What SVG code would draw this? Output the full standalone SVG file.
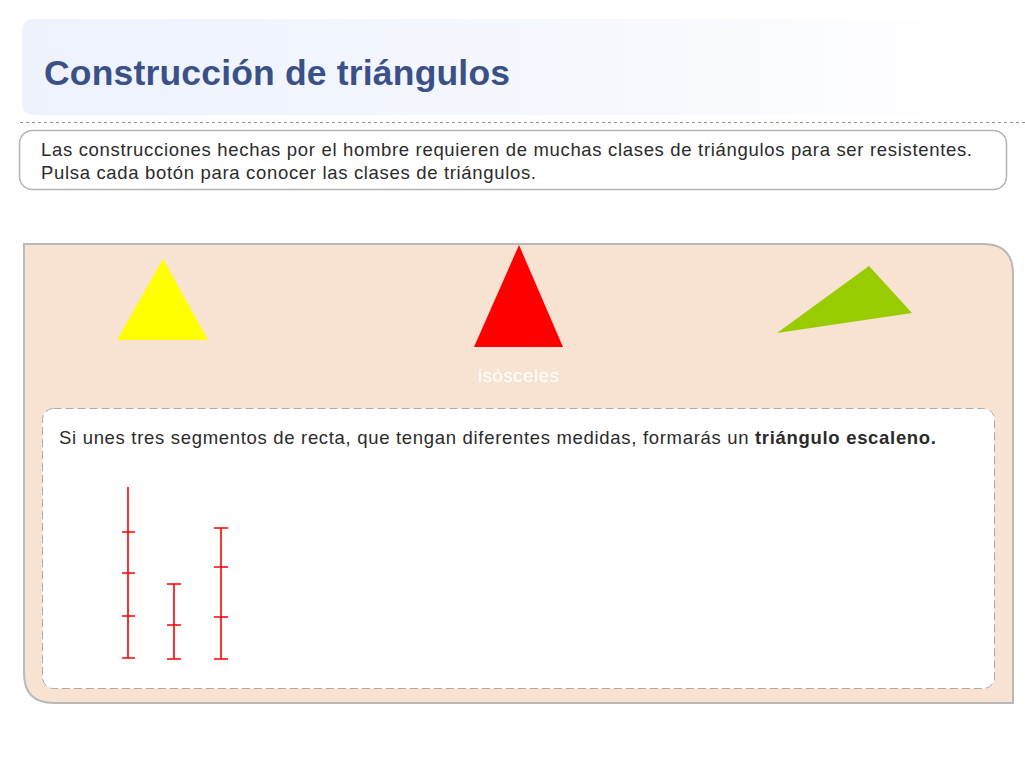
<svg xmlns="http://www.w3.org/2000/svg" width="1025" height="769" viewBox="0 0 1025 769">
<defs>
<linearGradient id="hdr" x1="0" y1="0" x2="1" y2="0">
<stop offset="0" stop-color="#edf2fd"/>
<stop offset="0.6" stop-color="#f6f8fe"/>
<stop offset="1" stop-color="#ffffff"/>
</linearGradient>
<style>
.body{font-family:"Liberation Sans",Arial,sans-serif;font-size:18.5px;fill:#2b2b2b}
.seg{stroke:#ff0000;stroke-width:1.6;fill:none}
</style>
</defs>
<rect width="1025" height="769" fill="#ffffff"/>
<g id="header">
<path d="M34 19 H975 V115 H34 Q22 115 22 103 V31 Q22 19 34 19 Z" fill="url(#hdr)"/>
<text x="44" y="85" font-family="Liberation Sans,Arial,sans-serif" font-size="35.5" font-weight="bold" fill="#3a5188" textLength="466" lengthAdjust="spacing">Construcción de triángulos</text>
</g>
<line x1="20" y1="122.5" x2="1025" y2="122.5" stroke="#8a8f99" stroke-width="1" stroke-dasharray="3,3"/>
<g id="intro">
<rect x="19.5" y="130.5" width="987" height="59" rx="13" fill="#ffffff" stroke="#b4b4b4" stroke-width="1.5"/>
<text class="body" x="41" y="156" textLength="931" lengthAdjust="spacing">Las construcciones hechas por el hombre requieren de muchas clases de triángulos para ser resistentes.</text>
<text class="body" x="41" y="179" textLength="495" lengthAdjust="spacing">Pulsa cada botón para conocer las clases de triángulos.</text>
</g>
<g id="panel">
<path d="M24 244 H983 Q1013 244 1013 274 V703 H54 Q24 703 24 673 Z" fill="#f8e3d2" stroke="#b9b9b9" stroke-width="2"/>
</g>
<g id="tri-equilatero"><polygon points="163,259 117,340 208,340" fill="#ffff00"/></g>
<g id="tri-isosceles"><polygon points="519,245 474,347 563,347" fill="#ff0000"/>
<text x="478" y="382" font-family="Liberation Sans,Arial,sans-serif" font-size="18.5" fill="#ffffff" textLength="81" lengthAdjust="spacing">isósceles</text></g>
<g id="tri-escaleno"><polygon points="869,266 777,333 912,313" fill="#99cc00"/></g>
<g id="content">
<rect x="42.5" y="408.5" width="952" height="280" rx="11" fill="#ffffff" stroke="#aaaaaa" stroke-width="1" stroke-dasharray="8,4"/>
<text class="body" x="59" y="444" textLength="877" lengthAdjust="spacing">Si unes tres segmentos de recta, que tengan diferentes medidas, formarás un <tspan font-weight="bold">triángulo escaleno.</tspan></text>
</g>
<g id="segments" class="seg">
<path d="M128 487 V658 M122 532 H135 M122 573 H135 M122 616 H135 M122 658 H135"/>
<path d="M174 584 V659 M167 584 H181 M167 625 H181 M167 659 H181"/>
<path d="M221 528 V659 M214 528 H228 M214 567 H228 M214 617 H228 M214 659 H228"/>
</g>
</svg>
